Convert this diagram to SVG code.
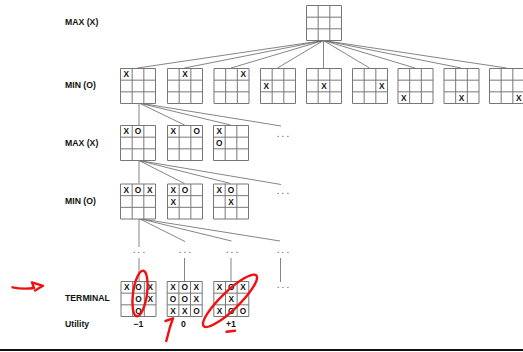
<svg xmlns="http://www.w3.org/2000/svg" xmlns:xlink="http://www.w3.org/1999/xlink" width="523" height="352" viewBox="0 0 523 352">
<style>
.lbl{font-family:"Liberation Sans",Arial,sans-serif;font-weight:bold;font-size:8.7px;fill:#111}
.m{font-family:"Liberation Sans",Arial,sans-serif;font-weight:bold;font-size:8.3px;fill:#111;text-anchor:middle}
.val{font-family:"Liberation Sans",Arial,sans-serif;font-weight:bold;font-size:8.7px;fill:#111;text-anchor:middle}
.dots{font-family:"Liberation Sans",Arial,sans-serif;font-size:10px;fill:#555;letter-spacing:2.1px;text-anchor:middle}
.con line{stroke:#666;stroke-width:0.8}
.red{fill:none;stroke:#f01010;stroke-width:2.4;stroke-linecap:round;stroke-linejoin:round}
</style>
<defs>
<path id="grid" d="M0.5,0.5h35v35h-35z M12.17,0.5v35 M23.83,0.5v35 M0.5,12.17h35 M0.5,23.83h35" fill="#fff" stroke="#777" stroke-width="1"/>
</defs>
<rect width="523" height="352" fill="#fff"/>

<g id="labels">
<text class="lbl" x="65" y="25">MAX (X)</text>
<text class="lbl" x="65" y="88.3">MIN (O)</text>
<text class="lbl" x="65" y="146">MAX (X)</text>
<text class="lbl" x="65" y="204">MIN (O)</text>
<text class="lbl" x="65" y="300.7">TERMINAL</text>
<text class="lbl" x="65" y="326.5">Utility</text>
</g>

<g id="connectors" class="con">
<line x1="323.5" y1="40.5" x2="137.5" y2="68"/>
<line x1="323.5" y1="40.5" x2="184.5" y2="68"/>
<line x1="323.5" y1="40.5" x2="231" y2="68"/>
<line x1="323.5" y1="40.5" x2="277.5" y2="68"/>
<line x1="323.5" y1="40.5" x2="323.5" y2="68"/>
<line x1="323.5" y1="40.5" x2="369.5" y2="68"/>
<line x1="323.5" y1="40.5" x2="415" y2="68"/>
<line x1="323.5" y1="40.5" x2="461" y2="68"/>
<line x1="323.5" y1="40.5" x2="506.5" y2="68"/>
<line x1="139" y1="103" x2="139" y2="125"/>
<line x1="139" y1="103" x2="184.5" y2="125"/>
<line x1="139" y1="103" x2="230.5" y2="125"/>
<line x1="139" y1="103" x2="281" y2="126"/>
<line x1="139" y1="160.5" x2="139" y2="183.5"/>
<line x1="139" y1="160.5" x2="184.5" y2="183.5"/>
<line x1="139" y1="160.5" x2="230.5" y2="183.5"/>
<line x1="139" y1="160.5" x2="281" y2="184.5"/>
<line x1="139" y1="218.5" x2="139" y2="247"/>
<line x1="139" y1="218.5" x2="185" y2="241.5"/>
<line x1="139" y1="218.5" x2="231.5" y2="241"/>
<line x1="139" y1="218.5" x2="280" y2="241"/>
<line x1="139" y1="258" x2="139" y2="281"/>
<line x1="184.5" y1="258" x2="184.5" y2="281"/>
<line x1="231" y1="258" x2="231" y2="281"/>
<line x1="280.5" y1="258" x2="280.5" y2="282"/>
</g>

<g id="dots">
<text class="dots" x="284" y="136.5">...</text>
<text class="dots" x="284" y="194">...</text>
<text class="dots" x="140" y="252.5">...</text>
<text class="dots" x="186" y="252.5">...</text>
<text class="dots" x="233" y="252.5">...</text>
<text class="dots" x="284" y="252.5">...</text>
<text class="dots" x="284" y="287.5">...</text>
</g>

<g id="root" transform="translate(306,5)"><use xlink:href="#grid"/></g>

<g id="min1-0" transform="translate(120,68)"><use xlink:href="#grid"/><text class="m" x="6.3" y="9.3">X</text></g>
<g id="min1-1" transform="translate(167,68)"><use xlink:href="#grid"/><text class="m" x="18" y="9.3">X</text></g>
<g id="min1-2" transform="translate(213.5,68)"><use xlink:href="#grid"/><text class="m" x="29.7" y="9.3">X</text></g>
<g id="min1-3" transform="translate(260,68)"><use xlink:href="#grid"/><text class="m" x="6.3" y="21">X</text></g>
<g id="min1-4" transform="translate(306,68)"><use xlink:href="#grid"/><text class="m" x="18" y="21">X</text></g>
<g id="min1-5" transform="translate(352,68)"><use xlink:href="#grid"/><text class="m" x="29.7" y="21">X</text></g>
<g id="min1-6" transform="translate(397.5,68)"><use xlink:href="#grid"/><text class="m" x="6.3" y="32.7">X</text></g>
<g id="min1-7" transform="translate(443.5,68)"><use xlink:href="#grid"/><text class="m" x="18" y="32.7">X</text></g>
<g id="min1-8" transform="translate(489,68)"><use xlink:href="#grid"/><text class="m" x="29.7" y="32.7">X</text></g>

<g id="max2-0" transform="translate(120,125)"><use xlink:href="#grid"/><text class="m" x="6.3" y="9.3">X</text><text class="m" x="18" y="9.3">O</text></g>
<g id="max2-1" transform="translate(167,125)"><use xlink:href="#grid"/><text class="m" x="6.3" y="9.3">X</text><text class="m" x="29.7" y="9.3">O</text></g>
<g id="max2-2" transform="translate(213,125)"><use xlink:href="#grid"/><text class="m" x="6.3" y="9.3">X</text><text class="m" x="6.3" y="21">O</text></g>

<g id="min2-0" transform="translate(120,183.5)"><use xlink:href="#grid"/><text class="m" x="6.3" y="9.3">X</text><text class="m" x="18" y="9.3">O</text><text class="m" x="29.7" y="9.3">X</text></g>
<g id="min2-1" transform="translate(167,183.5)"><use xlink:href="#grid"/><text class="m" x="6.3" y="9.3">X</text><text class="m" x="18" y="9.3">O</text><text class="m" x="6.3" y="21">X</text></g>
<g id="min2-2" transform="translate(213,183.5)"><use xlink:href="#grid"/><text class="m" x="6.3" y="9.3">X</text><text class="m" x="18" y="9.3">O</text><text class="m" x="18" y="21">X</text></g>

<g id="term-0" transform="translate(120.5,281)"><use xlink:href="#grid"/>
<text class="m" x="6.3" y="9.3">X</text><text class="m" x="18" y="9.3">O</text><text class="m" x="29.7" y="9.3">X</text>
<text class="m" x="18" y="21">O</text><text class="m" x="29.7" y="21">X</text>
<text class="m" x="18" y="32.7">O</text></g>
<g id="term-1" transform="translate(166.7,281)"><use xlink:href="#grid"/>
<text class="m" x="6.3" y="9.3">X</text><text class="m" x="18" y="9.3">O</text><text class="m" x="29.7" y="9.3">X</text>
<text class="m" x="6.3" y="21">O</text><text class="m" x="18" y="21">O</text><text class="m" x="29.7" y="21">X</text>
<text class="m" x="6.3" y="32.7">X</text><text class="m" x="18" y="32.7">X</text><text class="m" x="29.7" y="32.7">O</text></g>
<g id="term-2" transform="translate(213.3,281)"><use xlink:href="#grid"/>
<text class="m" x="6.3" y="9.3">X</text><text class="m" x="18" y="9.3">O</text><text class="m" x="29.7" y="9.3">X</text>
<text class="m" x="18" y="21">X</text>
<text class="m" x="6.3" y="32.7">X</text><text class="m" x="18" y="32.7">O</text><text class="m" x="29.7" y="32.7">O</text></g>

<g id="utilities">
<text class="val" x="138.3" y="327">−1</text>
<text class="val" x="183.5" y="327">0</text>
<text class="val" x="231" y="327">+1</text>
</g>

<line x1="0" y1="350" x2="523" y2="350" stroke="#111" stroke-width="2"/>

<g id="annotations">
<path class="red" d="M12.5,287.3 Q23,289.5 34,288 L32,282.3 L43,285.8 L35,290.5"/>
<ellipse class="red" cx="140" cy="293.5" rx="7" ry="23" transform="rotate(8 140 293.5)"/>
<ellipse class="red" cx="230" cy="300.8" rx="36.5" ry="9" transform="rotate(-44 230 300.8)"/>
<path class="red" d="M165.5,321 L173,318.3 L170,327 L166.3,341"/>
<path class="red" d="M226.5,331.8 L235,330.8"/>
</g>
</svg>
